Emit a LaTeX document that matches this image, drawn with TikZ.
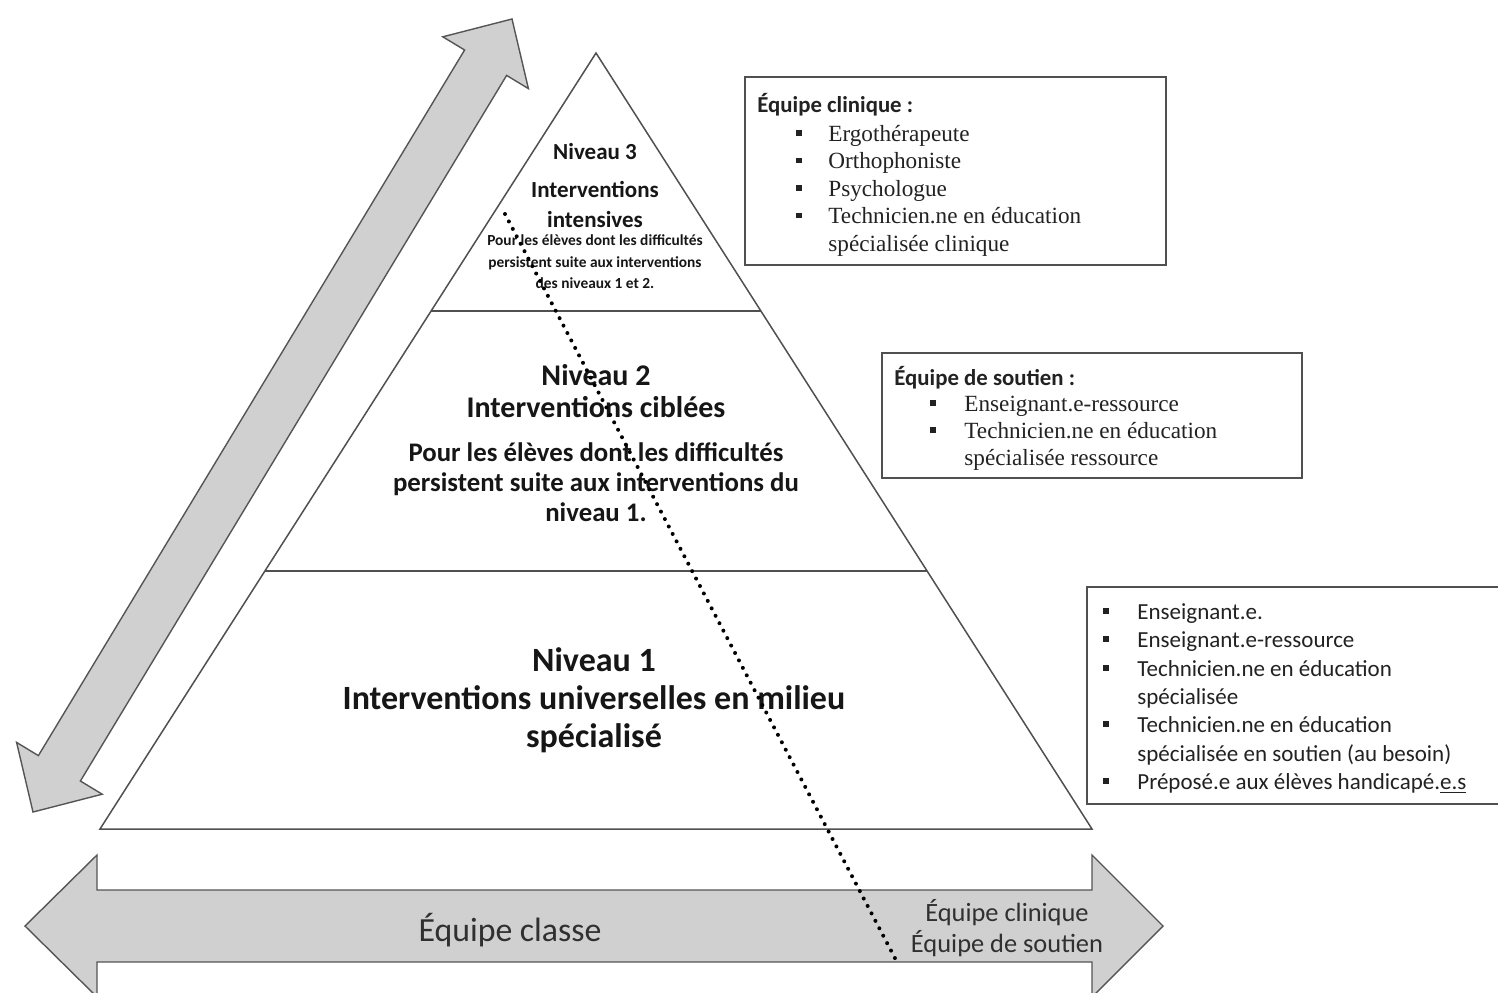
\documentclass[tikz,border=0pt]{standalone}
\usepackage{fontspec}
\setmainfont{Carlito}
\newfontfamily\tms{Liberation Serif}
\usetikzlibrary{calc}
\definecolor{lin}{HTML}{505050}
\definecolor{arrfill}{HTML}{D0D0D0}
\definecolor{arrdraw}{HTML}{555555}
\definecolor{txt}{HTML}{161616}
\definecolor{txtb}{HTML}{222222}
\definecolor{txta}{HTML}{303030}
\begin{document}
\begin{tikzpicture}[x=0.5pt,y=-0.5pt,
  pyr/.style={draw=lin,line width=0.75pt},
  bigarrow/.style={fill=arrfill,draw=arrdraw,line width=0.7pt,line join=miter},
  boxst/.style={draw=lin,line width=0.75pt},
  lbl/.style={inner sep=0pt,align=center,text=txt},
  t3/.style={lbl,font=\bfseries\fontsize{11.5}{15}\selectfont},
  t3s/.style={lbl,font=\bfseries\fontsize{7.7}{10.7}\selectfont},
  t2/.style={lbl,font=\bfseries\fontsize{15}{16}\selectfont},
  t2b/.style={lbl,font=\bfseries\fontsize{13.4}{15}\selectfont},
  t1/.style={lbl,font=\bfseries\fontsize{17}{19}\selectfont},
  ta/.style={inner sep=0pt,align=center,text=txta},
  btitle/.style={inner sep=0pt,anchor=base west,text=txtb,font=\bfseries\fontsize{11.4}{13}\selectfont},
  bser/.style={inner sep=0pt,anchor=base west,text=txtb,font=\tms\fontsize{11.6}{13}\selectfont},
  bsans/.style={inner sep=0pt,anchor=base west,text=txtb,font=\fontsize{11.5}{13}\selectfont},
  bul/.style={rectangle,fill=txtb,inner sep=0pt,minimum size=2.6pt},
  dots/.style={line width=2pt,line cap=round,dash pattern=on 0pt off 4.2pt,draw=black}
]
\useasboundingbox (0,0) rectangle (1498,992);
\fill[white] (0,0) rectangle (1498,992);

% diagonal double arrow
\draw[bigarrow] (512,19) -- (528.4,88.6) -- (506.6,75.4) -- (80.4,781.0) -- (102.2,794.2)
  -- (33,812) -- (16.6,742.4) -- (38.4,755.6) -- (464.6,50.0) -- (442.8,36.8) -- cycle;

% horizontal double arrow
\draw[bigarrow] (25,926) -- (97,855) -- (97,890) -- (1092,890) -- (1092,855) -- (1163,926)
  -- (1092,997) -- (1092,962) -- (97,962) -- (97,997) -- cycle;

% pyramid
\coordinate (apex) at (596,53);
\coordinate (bl) at (100,829);
\coordinate (br) at (1092,829);
\draw[pyr,line join=miter] (apex) -- (bl) -- (br) -- cycle;
\draw[pyr] ($(apex)!0.3325!(bl)$) -- ($(apex)!0.3325!(br)$);
\draw[pyr] ($(apex)!0.6675!(bl)$) -- ($(apex)!0.6675!(br)$);

% pyramid texts
\node[t3] (n3) at (595,152) {Niveau 3};
\node[t3] (i3) at (595,204) {Interventions\\intensives};
\node[t3s] (p3) at (595,262) {Pour les élèves dont les difficultés\\persistent suite aux interventions\\des niveaux 1 et 2.};
\node[t2] (n2) at (596,391) {Niveau 2\\Interventions ciblées};
\node[t2b] (p2) at (596,482) {Pour les élèves dont les difficultés\\persistent suite aux interventions du\\niveau 1.};
\node[t1] (n1) at (594,700) {Niveau 1\\Interventions universelles en milieu\\spécialisé};

% arrow texts
\node[ta,font=\fontsize{16.9}{20}\selectfont] (ec) at (510,930) {Équipe classe};
\node[ta,font=\fontsize{13.2}{15.5}\selectfont] (ecs) at (1007,928) {Équipe clinique\\Équipe de soutien};

% box 1
\draw[boxst] (745,77) rectangle (1166,265);
\node[btitle] (b1t) at (757,112) {Équipe clinique :};
\foreach \y/\t [count=\i] in {141/Ergothérapeute,168.5/Orthophoniste,196/Psychologue,223.5/Technicien.ne en éducation}{
  \node[bser] (b1i\i) at (828,\y) {\t};
  \node[bul] (b1b\i) at (799,{\y-8}) {};
}
\node[bser] (b1c) at (828,251) {spécialisée clinique};

% box 2
\draw[boxst] (882,353) rectangle (1302,478);
\node[btitle] (b2t) at (894,385) {Équipe de soutien :};
\foreach \y/\t [count=\i] in {411/Enseignant.e-ressource,438/Technicien.ne en éducation}{
  \node[bser] (b2i\i) at (964,\y) {\t};
  \node[bul] (b2b\i) at (933,{\y-8}) {};
}
\node[bser] (b2c) at (964,465) {spécialisée ressource};

% box 3
\draw[boxst] (1087,587) rectangle (1530,804);
\foreach \y/\t [count=\i] in {619/Enseignant.e.,647/Enseignant.e-ressource,676/Technicien.ne en éducation,732/Technicien.ne en éducation}{
  \node[bsans] (b3i\i) at (1137,\y) {\t};
  \node[bul] (b3b\i) at (1106,{\y-8}) {};
}
\node[bsans] (b3c1) at (1137,704) {spécialisée};
\node[bsans] (b3c2) at (1137,761) {spécialisée en soutien (au besoin)};
\node[bsans] (b3i5) at (1137,789) {Préposé.e aux élèves handicapé.\underline{e.s}};
\node[bul] (b3b5) at (1106,781) {};

% dotted line
\coordinate (d1) at (505,214);
\coordinate (d2) at (897,962);
\draw[dots] (d1) -- (d2);
\end{tikzpicture}
\end{document}
